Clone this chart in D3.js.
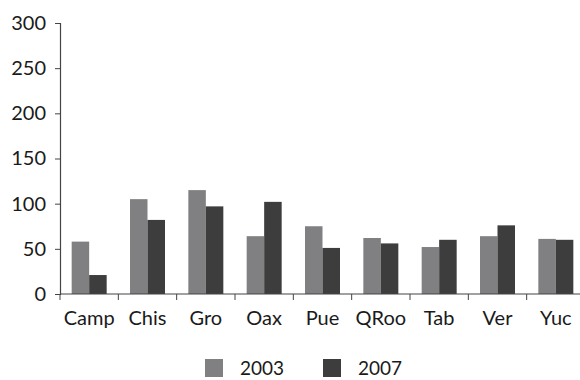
<!DOCTYPE html>
<html>
<head>
<meta charset="utf-8">
<script src="https://cdn.jsdelivr.net/npm/d3@7"></script>
<style>
  body { margin: 0; background: #fff; }
  text { font-family: Lato, "Open Sans", sans-serif; fill: #1a1a1a; }
</style>
</head>
<body>
<svg width="580" height="380"></svg>
<script>
const categories = ['Camp', 'Chis', 'Gro', 'Oax', 'Pue', 'QRoo', 'Tab', 'Ver', 'Yuc']
const series = ['2003', '2007']
const values2003 = [58, 105, 115, 64, 75, 62, 52, 64, 61]
const values2007 = [21, 82, 97, 102, 51, 56, 60, 76, 60]
const yTicks = [0, 50, 100, 150, 200, 250, 300]

const svg = d3.select('svg')
const colors = { '2003': '#808083', '2007': '#3d3d3d' }
const axisColor = '#444'

const data = categories.map((c, i) => ({ cat: c, '2003': values2003[i], '2007': values2007[i] }))

const xScale = d3.scaleBand()
    .domain(categories)
    .range([60, 585])

const xInner = d3.scaleBand()
    .domain(series)
    .range([0, 35])

const yScale = d3.scaleLinear()
    .domain([0, 300])
    .range([294, 23])

// bars
const groups = svg.append('g')
    .selectAll('g')
    .data(data)
    .enter()
    .append('g')
    .attr('transform', d => `translate(${xScale(d.cat) + (xScale.bandwidth() - 35) / 2},0)`)

groups.selectAll('rect')
    .data(d => series.map(s => ({ s, v: d[s] })))
    .enter()
    .append('rect')
    .attr('x', d => xInner(d.s))
    .attr('width', xInner.bandwidth())
    .attr('y', d => yScale(d.v))
    .attr('height', d => yScale(0) - yScale(d.v))
    .attr('fill', d => colors[d.s])

// y axis
const yAxis = svg.append('g')
    .attr('transform', 'translate(60,0)')
    .call(d3.axisLeft(yScale).tickValues(yTicks).tickSize(5).tickPadding(9))
yAxis.select('.domain').attr('stroke', axisColor).attr('stroke-width', 1.2)
yAxis.selectAll('.tick line').attr('stroke', axisColor)
yAxis.selectAll('.tick text')
    .attr('font-size', 20)
    .style('font-family', 'Lato, sans-serif')
    .attr('fill', '#1a1a1a')

// x axis: ticks at category boundaries
const xAxisG = svg.append('g')
    .attr('transform', `translate(0,${yScale(0)})`)
xAxisG.append('line')
    .attr('x1', 60).attr('x2', 585)
    .attr('stroke', axisColor).attr('stroke-width', 1.2)
xAxisG.selectAll('line.tk')
    .data(categories)
    .enter()
    .append('line')
    .attr('class', 'tk')
    .attr('x1', d => xScale(d)).attr('x2', d => xScale(d))
    .attr('y1', 0).attr('y2', 6)
    .attr('stroke', axisColor)
xAxisG.selectAll('text')
    .data(categories)
    .enter()
    .append('text')
    .attr('x', d => xScale(d) + xScale.bandwidth() / 2)
    .attr('y', 31)
    .attr('text-anchor', 'middle')
    .attr('font-size', 20)
    .text(d => d)

// legend
const legend = svg.append('g')
    .selectAll('g')
    .data(series)
    .enter()
    .append('g')
    .attr('transform', (d, i) => `translate(${205 + i * 118},359)`)
legend.append('rect')
    .attr('width', 18).attr('height', 18)
    .attr('fill', d => colors[d])
legend.append('text')
    .attr('x', 35).attr('y', 16)
    .attr('font-size', 19)
    .text(d => d)
</script>
</body>
</html>
